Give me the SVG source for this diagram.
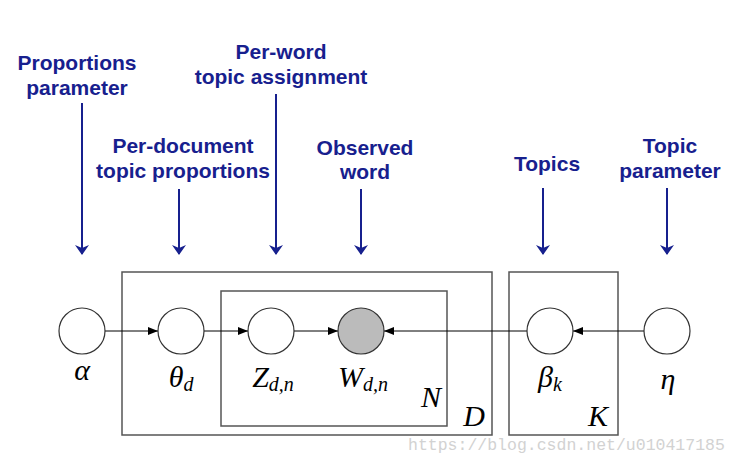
<svg xmlns="http://www.w3.org/2000/svg" width="740" height="465" viewBox="0 0 740 465">
<defs>
<style>
.lbl{font-family:"Liberation Sans",Arial,sans-serif;font-weight:bold;font-size:21px;fill:#17208e;text-anchor:middle}
.ann{stroke:#17208e;stroke-width:2;fill:none}
.plate{fill:none;stroke:#555;stroke-width:1.5}
.node{fill:#fff;stroke:#333;stroke-width:1.2}
.obs{fill:#bbb;stroke:#333;stroke-width:1.2}
.edge{stroke:#000;stroke-width:1;fill:none}
.m{font-family:"Liberation Serif","Times New Roman",serif;font-style:italic;font-size:30px;fill:#000;text-anchor:middle}
.sub{font-size:20px}
.wm{font-family:"Liberation Mono","Courier New",monospace;font-size:16.5px;fill:#d2d2d2}
</style>
<marker id="ah" viewBox="0 0 10 8" refX="10" refY="4" markerWidth="10" markerHeight="8" markerUnits="userSpaceOnUse" orient="auto">
<path d="M0,0 L10,4 L0,8 Z" fill="#000"/>
</marker>
<marker id="bh" viewBox="0 0 10 14" refX="9" refY="7" markerWidth="10" markerHeight="14" markerUnits="userSpaceOnUse" orient="auto">
<path d="M0,0 L10,7 L0,14 L3,7 Z" fill="#17208e"/>
</marker>
</defs>
<rect width="740" height="465" fill="#fff"/>

<g id="annotations">
<g id="ann-alpha"><text class="lbl" x="77" y="70">Proportions</text><text class="lbl" x="77" y="95">parameter</text><line class="ann" x1="82" y1="103" x2="82" y2="254" marker-end="url(#bh)"/></g>
<g id="ann-theta"><text class="lbl" x="183" y="153">Per-document</text><text class="lbl" x="183" y="178">topic proportions</text><line class="ann" x1="179" y1="189" x2="179" y2="254" marker-end="url(#bh)"/></g>
<g id="ann-z"><text class="lbl" x="281" y="59">Per-word</text><text class="lbl" x="281" y="84">topic assignment</text><line class="ann" x1="276" y1="94" x2="276" y2="254" marker-end="url(#bh)"/></g>
<g id="ann-w"><text class="lbl" x="365" y="155">Observed</text><text class="lbl" x="365" y="179">word</text><line class="ann" x1="361" y1="189" x2="361" y2="254" marker-end="url(#bh)"/></g>
<g id="ann-beta"><text class="lbl" x="547" y="171">Topics</text><line class="ann" x1="543" y1="188" x2="543" y2="254" marker-end="url(#bh)"/></g>
<g id="ann-eta"><text class="lbl" x="670" y="153">Topic</text><text class="lbl" x="670" y="178">parameter</text><line class="ann" x1="667" y1="188" x2="667" y2="254" marker-end="url(#bh)"/></g>
</g>

<g id="plates">
<g id="plate-D"><rect class="plate" x="122" y="272" width="370" height="163"/><text class="m" x="474" y="426">D</text></g>
<g id="plate-N"><rect class="plate" x="221" y="291" width="226" height="135"/><text class="m" x="431" y="407">N</text></g>
<g id="plate-K"><rect class="plate" x="509" y="272" width="109" height="163"/><text class="m" x="598" y="426">K</text></g>
</g>

<g id="connectors">
<line class="edge" x1="105" y1="331" x2="158" y2="331" marker-end="url(#ah)"/>
<line class="edge" x1="204" y1="331" x2="248" y2="331" marker-end="url(#ah)"/>
<line class="edge" x1="294" y1="331" x2="338" y2="331" marker-end="url(#ah)"/>
<line class="edge" x1="527" y1="331" x2="384" y2="331" marker-end="url(#ah)"/>
<line class="edge" x1="644" y1="331" x2="573" y2="331" marker-end="url(#ah)"/>
</g>

<g id="node-alpha"><circle class="node" cx="82" cy="331" r="23"/><text class="m" x="82" y="380">α</text></g>
<g id="node-theta"><circle class="node" cx="181" cy="331" r="23"/><text class="m" x="181" y="387">θ<tspan class="sub" dy="4">d</tspan></text></g>
<g id="node-z"><circle class="node" cx="271" cy="331" r="23"/><text class="m" x="273" y="387">Z<tspan class="sub" dy="4">d,n</tspan></text></g>
<g id="node-w"><circle class="obs" cx="361" cy="331" r="23"/><text class="m" x="363" y="387">W<tspan class="sub" dy="4">d,n</tspan></text></g>
<g id="node-beta"><circle class="node" cx="550" cy="331" r="23"/><text class="m" x="550" y="387">β<tspan class="sub" dy="4">k</tspan></text></g>
<g id="node-eta"><circle class="node" cx="667" cy="331" r="23"/><text class="m" x="668" y="389">η</text></g>

<text class="wm" x="408" y="450">https://blog.csdn.net/u010417185</text>
</svg>
